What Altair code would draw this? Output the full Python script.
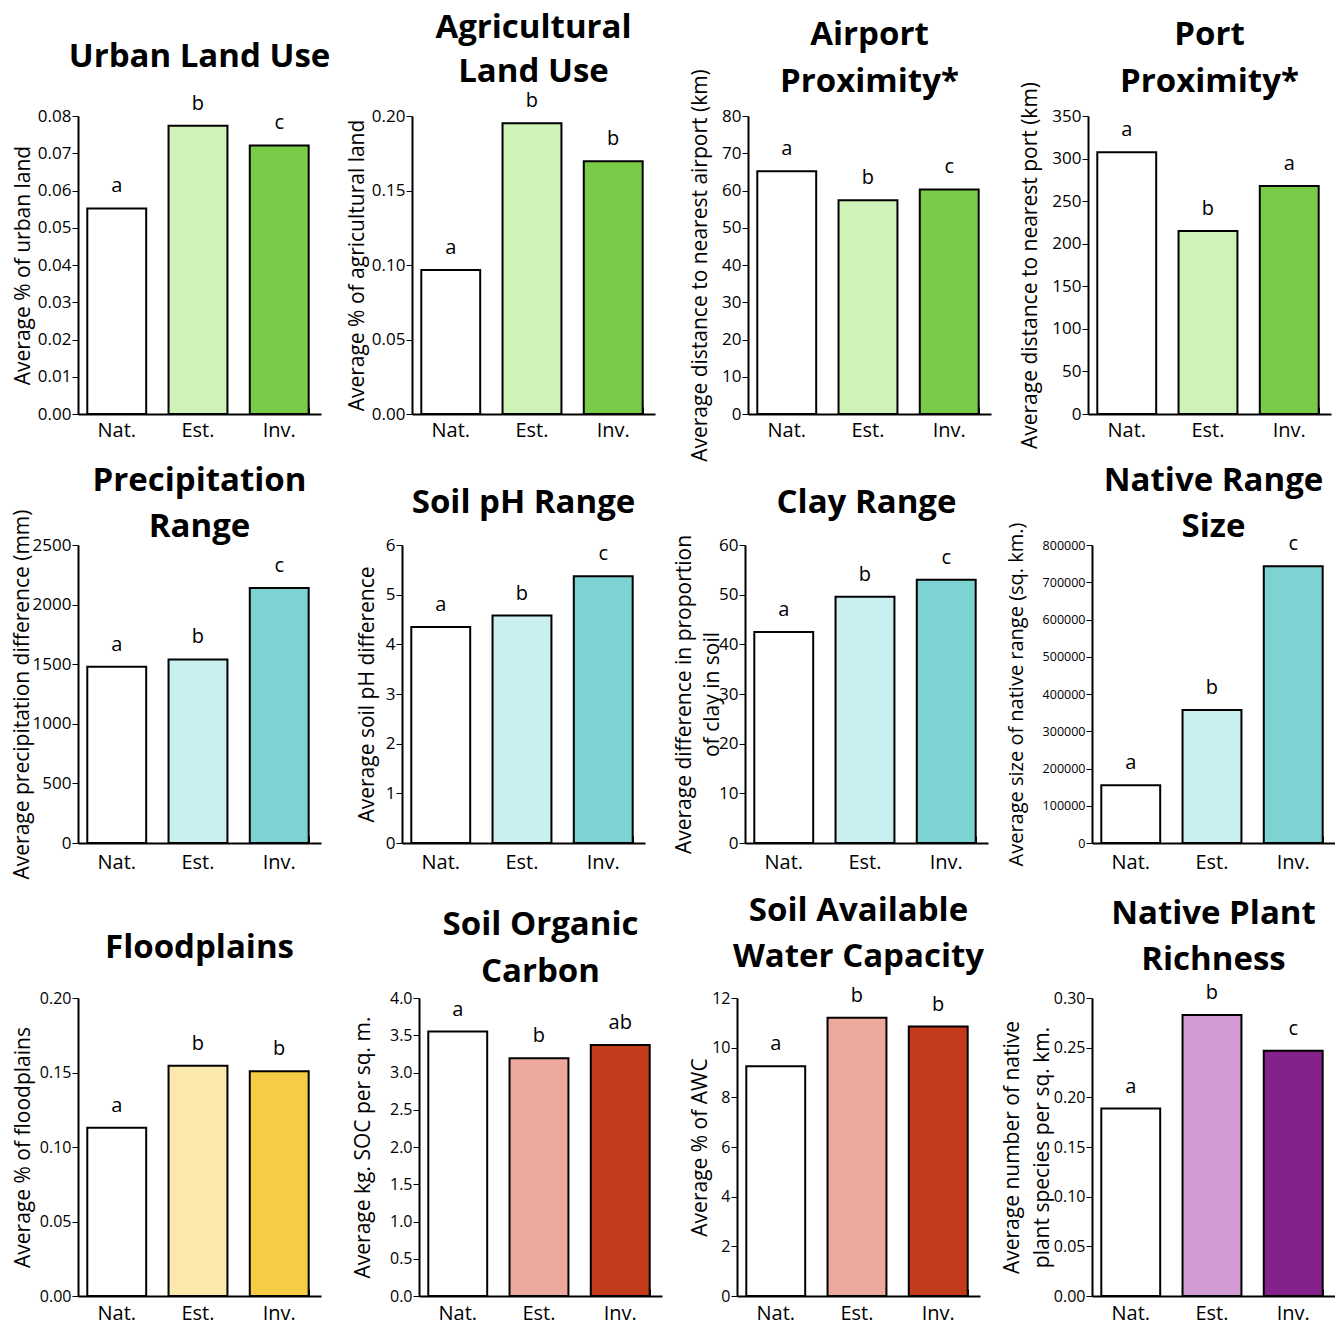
import altair as alt
import pandas as pd

FONT = "Open Sans"
W, H = 243, 298

categories = ["Nat.", "Est.", "Inv."]

# ---- values ----
urban = [0.0552, 0.0774, 0.0721]
urban_letters = ["a", "b", "c"]
agri = [0.0966, 0.1951, 0.1696]
agri_letters = ["a", "b", "b"]
airport = [65.2, 57.4, 60.3]
airport_letters = ["a", "b", "c"]
port = [307.4, 215.0, 267.9]
port_letters = ["a", "b", "a"]

precip = [1478, 1540, 2140]
precip_letters = ["a", "b", "c"]
ph = [4.35, 4.58, 5.37]
ph_letters = ["a", "b", "c"]
clay = [42.5, 49.6, 53.0]
clay_letters = ["a", "b", "c"]
range_size = [155000, 357000, 743000]
range_letters = ["a", "b", "c"]

flood = [0.1130, 0.1545, 0.1508]
flood_letters = ["a", "b", "b"]
soc = [3.55, 3.19, 3.37]
soc_letters = ["a", "b", "ab"]
awc = [9.25, 11.2, 10.85]
awc_letters = ["a", "b", "b"]
richness = [0.1887, 0.283, 0.247]
richness_letters = ["a", "b", "c"]

# ---- tick values ----
ticks_urban = [0, 0.01, 0.02, 0.03, 0.04, 0.05, 0.06, 0.07, 0.08]
ticks_agri = [0, 0.05, 0.10, 0.15, 0.20]
ticks_airport = [0, 10, 20, 30, 40, 50, 60, 70, 80]
ticks_port = [0, 50, 100, 150, 200, 250, 300, 350]
ticks_precip = [0, 500, 1000, 1500, 2000, 2500]
ticks_ph = [0, 1, 2, 3, 4, 5, 6]
ticks_clay = [0, 10, 20, 30, 40, 50, 60]
ticks_range = [0, 100000, 200000, 300000, 400000, 500000, 600000, 700000, 800000]
ticks_flood = [0, 0.05, 0.10, 0.15, 0.20]
ticks_soc = [0, 0.5, 1.0, 1.5, 2.0, 2.5, 3.0, 3.5, 4.0]
ticks_awc = [0, 2, 4, 6, 8, 10, 12]
ticks_rich = [0, 0.05, 0.10, 0.15, 0.20, 0.25, 0.30]

# ---- colours ----
green = ["#ffffff", "#cff2b9", "#7acc48"]
cyan = ["#ffffff", "#c9eff0", "#7dd3d1"]
yellow = ["#ffffff", "#fae8ad", "#f5cd45"]
red = ["#ffffff", "#eda99c", "#c43b1b"]
purple = ["#ffffff", "#d39bd3", "#84218a"]


def panel(values, letters, colors, titles, ytitle, ytx, ylh, ymax, yticks, yfmt,
          lab_size, xpad, anchor, ytitle_size=21):
    L, R, A, B = anchor
    df = pd.DataFrame({"cat": categories, "val": values, "letter": letters, "fill": colors})
    yscale = alt.Scale(domain=[0, ymax], nice=False, zero=True)
    xscale = alt.Scale(domain=categories, paddingInner=0.275, paddingOuter=0.133, align=0.43)

    bars = alt.Chart(df).mark_bar(stroke="black", strokeWidth=2).encode(
        x=alt.X("cat:N", scale=xscale, sort=categories,
                axis=alt.Axis(title=None, orient="bottom", ticks=False, tickSize=0,
                              labelAngle=0, labelFontSize=20, labelFont=FONT,
                              labelColor="black", labelPadding=xpad,
                              domainColor="black", domainWidth=2, grid=False)),
        y=alt.Y("val:Q", scale=yscale,
                axis=alt.Axis(title=ytitle, orient="left", values=yticks, format=yfmt,
                              tickSize=6, tickColor="black", tickWidth=1,
                              domainColor="black", domainWidth=2,
                              labelFontSize=lab_size, labelFont=FONT, labelColor="black",
                              labelPadding=1, labelFlush=False, labelOverlap=False,
                              titleFont=FONT, titleFontSize=ytitle_size,
                              titleFontWeight="normal", titleColor="black",
                              titleX=ytx, titleY=H / 2, titleAngle=270,
                              titleAlign="center", titleBaseline="middle",
                              titleLineHeight=ylh, grid=False)),
        fill=alt.Fill("fill:N", scale=None),
    )

    lets = alt.Chart(df).mark_text(dy=-16, baseline="alphabetic", fontSize=20,
                                    font=FONT, color="black").encode(
        x=alt.X("cat:N", scale=xscale, sort=categories,
                axis=alt.Axis(title=None, orient="top", offset=-H, labels=False,
                              domain=False, ticks=True, tickSize=7, tickBand="extent",
                              tickColor="black", tickWidth=1, grid=False)),
        y=alt.Y("val:Q", scale=yscale, axis=None),
        text="letter:N",
    )

    anchor_rule = alt.Chart(pd.DataFrame({"k": [0]})).mark_rule(opacity=0).encode(
        x=alt.value(-L), x2=alt.value(W + R), y=alt.value(-A), y2=alt.value(H + B))

    title_layers = []
    for line, ty in titles:
        title_layers.append(
            alt.Chart(pd.DataFrame({"t": [line]})).mark_text(
                font=FONT, fontSize=33, fontWeight="bold", align="center",
                baseline="middle", color="black").encode(
                x=alt.value(W / 2), y=alt.value(ty), text="t:N"))

    return alt.layer(anchor_rule, bars, lets, *title_layers).resolve_axis(
        x="independent", y="independent").properties(width=W, height=H)


# anchors: (left, right, top, bottom) extents around each plot area
row1 = alt.hconcat(
    panel(urban, urban_letters, green, [("Urban Land Use", -59)],
          "Average % of urban land", -55, 21, 0.08, ticks_urban, ".2f", 17, 6,
          (70, 15, 108, 47.5)),
    panel(agri, agri_letters, green, [("Agricultural", -88), ("Land Use", -44)],
          "Average % of agricultural land", -55, 21, 0.20, ticks_agri, ".2f", 17, 6,
          (76, 15, 108, 47.5)),
    panel(airport, airport_letters, green, [("Airport", -81), ("Proximity*", -34)],
          "Average distance to nearest airport (km)", -48, 21, 80, ticks_airport, "d", 17, 6,
          (78, 15, 108, 47.5)),
    panel(port, port_letters, green, [("Port", -81), ("Proximity*", -34)],
          "Average distance to nearest port (km)", -58, 21, 350, ticks_port, "d", 17, 6,
          (82, 0, 108, 47.5)),
    spacing=0,
)

row2 = alt.hconcat(
    panel(precip, precip_letters, cyan, [("Precipitation", -64), ("Range", -18)],
          "Average precipitation difference (mm)", -56, 21, 2500, ticks_precip, "d", 17, 9,
          (70, 15, 82.5, 45)),
    panel(ph, ph_letters, cyan, [("Soil pH Range", -42)],
          "Average soil pH difference", -35, 21, 6, ticks_ph, "d", 17, 9,
          (66, 15, 82.5, 45)),
    panel(clay, clay_letters, cyan, [("Clay Range", -42)],
          ["Average difference in proportion", "of clay in soil"], -61, 28, 60, ticks_clay, "d", 17, 9,
          (85, 15, 82.5, 45)),
    panel(range_size, range_letters, cyan, [("Native Range", -64), ("Size", -18)],
          "Average size of native range (sq. km.)", -76, 21, 800000, ticks_range, "d", 12.5, 9,
          (89, 0, 82.5, 45), ytitle_size=20),
    spacing=0,
)

row3 = alt.hconcat(
    panel(flood, flood_letters, yellow, [("Floodplains", -50.5)],
          "Average % of floodplains", -55, 21, 0.20, ticks_flood, ".2f", 16, 7,
          (70, 15, 109.5, 35)),
    panel(soc, soc_letters, red, [("Soil Organic", -73.5), ("Carbon", -26.5)],
          "Average kg. SOC per sq. m.", -56, 21, 4.0, ticks_soc, ".1f", 16, 7,
          (83, 15, 109.5, 35)),
    panel(awc, awc_letters, red, [("Soil Available", -87.5), ("Water Capacity", -41.5)],
          "Average % of AWC", -37, 21, 12, ticks_awc, "d", 16, 7,
          (60, 15, 109.5, 35)),
    panel(richness, richness_letters, purple, [("Native Plant", -84.5), ("Richness", -38.5)],
          ["Average number of native", "plant species per sq. km."], -80, 30, 0.30, ticks_rich, ".2f", 16, 7,
          (97, 0, 109.5, 35)),
    spacing=0,
)

chart = alt.vconcat(row1, row2, row3, spacing=0).properties(
    padding=0, background="white"
).configure_view(stroke=None)

chart.save("out.html", embed_options={"renderer": "svg", "actions": False})
